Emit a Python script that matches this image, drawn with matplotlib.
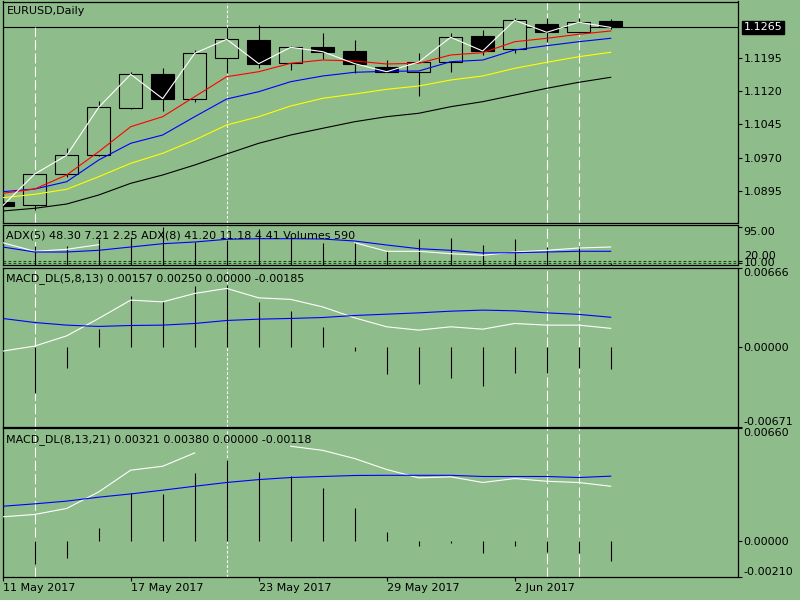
import matplotlib
matplotlib.use('Agg')
import matplotlib.pyplot as plt
from matplotlib.patches import Rectangle
import numpy as np
import pandas as pd

nan = np.nan
BG = '#8FBC8B'
W, H = 800, 600

# ---------------- data ----------------
dates = pd.bdate_range('2017-05-11', periods=20)
date_tick_idx = [0, 4, 8, 12, 16]

opens  = [1.08694, 1.08619, 1.09321, 1.09752, 1.10831, 1.11594, 1.11035, 1.11964, 1.12365, 1.11837,
          1.12206, 1.12115, 1.11760, 1.11646, 1.11873, 1.12455, 1.12154, 1.12727, 1.12553, 1.12795]
highs  = [1.08720, 1.09335, 1.09924, 1.10989, 1.11640, 1.11730, 1.12138, 1.12643, 1.12705, 1.12220,
          1.12523, 1.12365, 1.11911, 1.12063, 1.12516, 1.12591, 1.12856, 1.12856, 1.12856, 1.12841]
lows   = [1.08590, 1.08513, 1.09267, 1.09740, 1.10810, 1.10763, 1.10967, 1.11624, 1.11737, 1.11685,
          1.11934, 1.11610, 1.11630, 1.11096, 1.11646, 1.12025, 1.12063, 1.12326, 1.12516, 1.12607]
closes = [1.08610, 1.09328, 1.09752, 1.10840, 1.11587, 1.11035, 1.12063, 1.12381, 1.11828, 1.12199,
          1.12100, 1.11828, 1.11646, 1.11866, 1.12426, 1.12115, 1.12811, 1.12539, 1.12766, 1.12650]

ma_red    = [1.08891, 1.08988, 1.09306, 1.09834, 1.10400, 1.10627, 1.11080, 1.11533, 1.11646, 1.11837,
             1.11911, 1.11889, 1.11821, 1.11837, 1.12025, 1.12077, 1.12326, 1.12403, 1.12494, 1.12569]
ma_blue   = [1.08927, 1.08988, 1.09154, 1.09645, 1.10024, 1.10212, 1.10627, 1.11028, 1.11193, 1.11420,
             1.11549, 1.11633, 1.11655, 1.11662, 1.11873, 1.11911, 1.12138, 1.12236, 1.12326, 1.12403]
ma_yellow = [1.08791, 1.08868, 1.08982, 1.09267, 1.09571, 1.09797, 1.10099, 1.10439, 1.10627, 1.10869,
             1.11044, 1.11141, 1.11248, 1.11322, 1.11458, 1.11549, 1.11723, 1.11859, 1.11986, 1.12086]
ma_black  = [1.08490, 1.08551, 1.08648, 1.08852, 1.09117, 1.09306, 1.09532, 1.09781, 1.10024, 1.10212,
             1.10364, 1.10513, 1.10627, 1.10704, 1.10853, 1.10967, 1.11118, 1.11270, 1.11406, 1.11519]

price_ticks = [1.1195, 1.1120, 1.1045, 1.0970, 1.0895]
last_price = 1.1265

adx_white = [55.75, 34.25, 39.25, 50.75, nan, nan, nan, nan, nan, nan,
             nan, 55.75, 34.25, 34.25, 28.25, 24.25, 32.5, 36.75, 42.5, 45.0]
adx_blue  = [45.0, 32.5, 32.5, 36.75, 45.0, 53.25, 57.5, 64.25, 65.75, 65.75,
             65.0, 60.0, 50.0, 40.75, 36.75, 30.0, 30.75, 32.5, 34.25, 34.25]
volumes   = [0, 47.5, 47.5, 65.0, 70.0, 95.0, 58.75, 62.5, 90.0, 70.0,
             56.0, 57.5, 34.0, 65.75, 68.0, 49.0, 65.75, 45.0, 47.5, 4.0]
adx_levels = [9.0, 4.5]
adx_ticks = [95, 9.0, 4.5]
adx_tick_labels = ['95.00', '20.00', '10.00']

m1_hist  = [nan, -0.00384, -0.00175, 0.00150, 0.00427, 0.00385, 0.00511, 0.00520, 0.00377, 0.00301,
            0.00170, -0.00030, -0.00225, -0.00306, -0.00258, -0.00326, -0.00217, -0.00217, -0.00180, -0.00185]
m1_white = [-0.00034, 0.00008, 0.00094, 0.00240, 0.00394, 0.00379, 0.00450, 0.00492, 0.00413, 0.00400,
            0.00337, 0.00245, 0.00170, 0.00142, 0.00170, 0.00150, 0.00198, 0.00184, 0.00184, 0.00157]
m1_blue  = [0.00240, 0.00206, 0.00184, 0.00173, 0.00181, 0.00184, 0.00198, 0.00223, 0.00234, 0.00240,
            0.00248, 0.00265, 0.00276, 0.00287, 0.00301, 0.00310, 0.00304, 0.00287, 0.00274, 0.00250]
m1_range = (-0.00671, 0.00666)

m2_hist  = [nan, -0.00136, -0.00097, 0.00078, 0.00279, 0.00274, 0.00399, 0.00477, 0.00405, 0.00381,
            0.00311, 0.00194, 0.00054, -0.00027, -0.00012, -0.00072, -0.00027, -0.00062, -0.00068, -0.00118]
m2_white = [0.00142, 0.00156, 0.00191, 0.00288, 0.00415, 0.00438, 0.00516, nan, nan, 0.00555,
            0.00531, 0.00483, 0.00419, 0.00370, 0.00376, 0.00343, 0.00366, 0.00350, 0.00343, 0.00321]
m2_blue  = [0.00204, 0.00218, 0.00234, 0.00257, 0.00276, 0.00298, 0.00321, 0.00343, 0.00360, 0.00372,
            0.00378, 0.00384, 0.00385, 0.00385, 0.00385, 0.00378, 0.00378, 0.00378, 0.00372, 0.00380]
m2_range = (-0.00210, 0.00660)

sep_long = [1, 17, 18]
sep_short = [7]

# ---------------- figure ----------------
plt.rcParams['font.family'] = ['DejaVu Sans']
plt.rcParams['font.size'] = 8
fig = plt.figure(figsize=(8, 6), dpi=100, facecolor=BG)

X0, X1 = 2.5, 737.5
BAR0, STEP = 2.7, 32.0
xlim = ((X0 - BAR0) / STEP, (X1 - BAR0) / STEP)

LONG_DASH = (0, (9, 3))
SHORT_DASH = (0, (2.5, 1.8))
LEVEL_DASH = (0, (2.5, 2))


def panel(top, bottom):
    ax = fig.add_axes([X0 / W, 1 - bottom / H, (X1 - X0) / W, (bottom - top) / H])
    ax.set_facecolor(BG)
    ax.set_xlim(*xlim)
    for s in ax.spines.values():
        s.set_color('black')
        s.set_linewidth(0.9)
    ax.yaxis.tick_right()
    ax.tick_params(axis='y', which='both', direction='out', length=3, width=0.8,
                   pad=1.5, labelsize=8, colors='black', left=False, right=True)
    ax.tick_params(axis='x', which='both', bottom=False, top=False, labelbottom=False)
    return ax


LW = 0.8
x = np.arange(len(closes))

# main price panel
ax0 = panel(1.5, 223.3)
ax0.set_ylim(1.08211, 1.13237)
for i in range(len(closes)):
    o, h, l, c = opens[i], highs[i], lows[i], closes[i]
    ax0.vlines(i, l, h, color='black', lw=LW, zorder=2)
    bear = c < o
    ax0.add_patch(Rectangle((i - 0.35, min(o, c)), 0.70, abs(c - o),
                            facecolor='black' if bear else BG, edgecolor='black',
                            lw=LW, zorder=3))
ax0.plot(x, ma_black, color='black', lw=LW, zorder=4)
ax0.plot(x, ma_yellow, color='#FFFF00', lw=LW, zorder=4)
ax0.plot(x, ma_blue, color='#0000FF', lw=LW, zorder=4)
ax0.plot(x, ma_red, color='#FF0000', lw=LW, zorder=4)
ax0.plot(x, closes, color='white', lw=LW, zorder=5)
ax0.axhline(last_price, color='black', lw=LW, zorder=1)
ax0.set_yticks(price_ticks)
ax0.set_yticklabels([f'{v:.4f}' for v in price_ticks])
ax0.annotate(f'{last_price:.4f}', xy=(1.0, last_price), xycoords=('axes fraction', 'data'),
             xytext=(4.2, 0), textcoords='offset points', ha='left', va='center',
             color='white', fontsize=8,
             bbox=dict(boxstyle='square,pad=0.15', fc='black', ec='black'),
             annotation_clip=False)

# ADX / volumes panel
ax1 = panel(225.0, 265.0)
ax1.set_ylim(0, 100)
for lv in adx_levels:
    ax1.axhline(lv, color='#0B5A0B', lw=LW, linestyle=LEVEL_DASH)
ax1.vlines(x, 0, volumes, color='black', lw=LW, zorder=2)
ax1.plot(x, adx_white, color='white', lw=LW, zorder=3)
ax1.plot(x, adx_blue, color='#0000FF', lw=LW, zorder=4)
ax1.set_yticks(adx_ticks)
ax1.set_yticklabels(adx_tick_labels)
lbl = ax1.get_yticklabels()
lbl[0].set_va('top'); lbl[1].set_va('bottom'); lbl[2].set_va('center')

# MACD 1
ax2 = panel(267.7, 427.0)
ax2.set_ylim(*m1_range)
ax2.vlines(x, 0, m1_hist, color='black', lw=LW, zorder=2)
ax2.plot(x, m1_white, color='white', lw=LW, zorder=3)
ax2.plot(x, m1_blue, color='#0000FF', lw=LW, zorder=4)
ax2.set_yticks([m1_range[1], 0.0, m1_range[0]])
ax2.set_yticklabels([f'{m1_range[1]:.5f}', '0.00000', f'{m1_range[0]:.5f}'])
lbl = ax2.get_yticklabels()
lbl[0].set_va('top'); lbl[2].set_va('bottom')

# MACD 2
ax3 = panel(428.3, 577.0)
ax3.set_ylim(*m2_range)
ax3.vlines(x, 0, m2_hist, color='black', lw=LW, zorder=2)
ax3.plot(x, m2_white, color='white', lw=LW, zorder=3)
ax3.plot(x, m2_blue, color='#0000FF', lw=LW, zorder=4)
ax3.set_yticks([m2_range[1], 0.0, m2_range[0]])
ax3.set_yticklabels([f'{m2_range[1]:.5f}', '0.00000', f'{m2_range[0]:.5f}'])
lbl = ax3.get_yticklabels()
lbl[0].set_va('top'); lbl[2].set_va('bottom')

ax3.tick_params(axis='x', bottom=True, labelbottom=True, direction='out', length=3,
                width=0.8, pad=1.5, labelsize=8, colors='black')
ax3.set_xticks(date_tick_idx)
ax3.set_xticklabels([f'{dates[i].day} {dates[i]:%b %Y}' for i in date_tick_idx], ha='left')

# period separators
for ax in (ax0, ax1, ax2, ax3):
    for s in sep_long:
        if ax is ax0 and s == 1:
            ax.vlines(s, ax.get_ylim()[0], last_price, color='white', lw=LW,
                      linestyles=[LONG_DASH], zorder=1.5)
        else:
            ax.axvline(s, color='white', lw=LW, linestyle=LONG_DASH, zorder=1.5)
    for s in sep_short:
        ax.axvline(s, color='white', lw=LW, linestyle=SHORT_DASH, zorder=1.5)

# texts
def ftext(xp, yp, s):
    fig.text(xp / W, 1 - yp / H, s, ha='left', va='center', color='black', fontsize=8)

ftext(6.5, 11.5, 'EURUSD,Daily')
ftext(6.5, 236.0, 'ADX(5) 48.30 7.21 2.25 ADX(8) 41.20 11.18 4.41 Volumes 590')
ftext(5.5, 278.5, 'MACD_DL(5,8,13) 0.00157 0.00250 0.00000 -0.00185')
ftext(5.5, 439.5, 'MACD_DL(8,13,21) 0.00321 0.00380 0.00000 -0.00118')

fig.savefig('out.png', dpi=100, facecolor=BG)
